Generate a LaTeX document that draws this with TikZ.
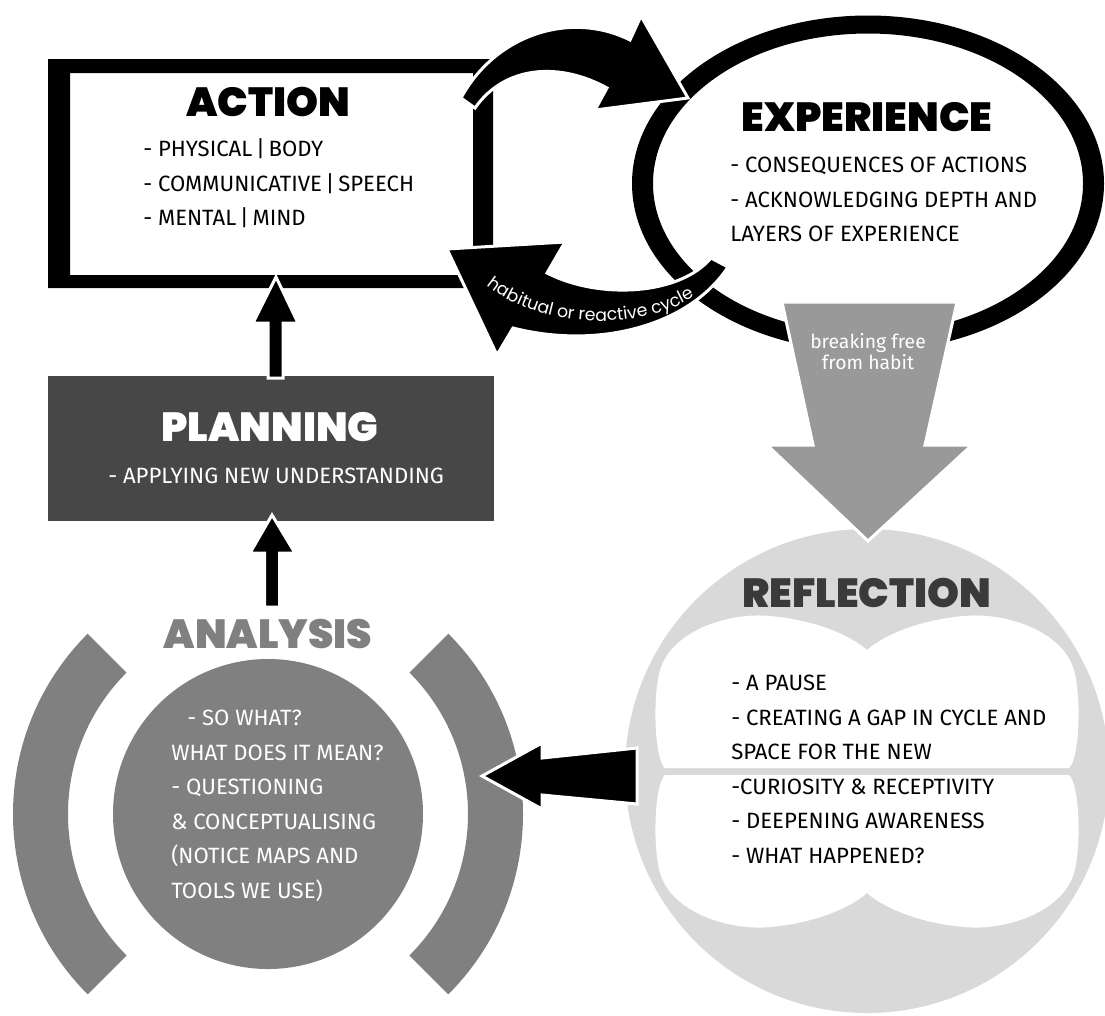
\documentclass[tikz,border=0pt]{standalone}
\usepackage{fontspec}
\setmainfont{Fira Sans}
\IfFontExistsTF{Poppins Black}{\newfontfamily\headfont{Poppins Black}}{%
  \IfFontExistsTF{Fira Sans Black}{\newfontfamily\headfont{Fira Sans Black}}{\newcommand\headfont{\bfseries}}}
\IfFontExistsTF{Poppins}{\newfontfamily\cyclefont{Poppins}}{\newcommand\cyclefont{}}
\usetikzlibrary{decorations.text}

\definecolor{planfill}{HTML}{474747}
\definecolor{anagray}{HTML}{808080}
\definecolor{freegray}{HTML}{999999}
\definecolor{reflgray}{HTML}{D9D9D9}
\definecolor{refltext}{HTML}{3A3A3A}

\tikzset{
  blockarrow/.style={fill=black, draw=white, line width=2.25pt, line join=miter},
  titletext/.style={inner sep=0, font=\headfont\fontsize{30.5}{30.5}\selectfont},
  listtext/.style={align=left, anchor=base west, inner sep=0, font=\fontsize{16.6}{25.95}\selectfont},
}

\begin{document}
\begin{tikzpicture}[x=0.75pt,y=0.75pt,yscale=-1,xscale=1]
\useasboundingbox (0,0) rectangle (1105,1015);

%Shape: Frame [ACTION]
\fill [even odd rule] (48,59) rectangle (493,288) (70,73) rectangle (473,275);
%Shape: Ellipse ring [EXPERIENCE]
\fill [even odd rule] (868,183.5) ellipse [x radius=236, y radius=168] (868,183.5) ellipse [x radius=215, y radius=150];
%Shape: Circle [REFLECTION]
\fill [reflgray] (867,771) circle [radius=242];
%Shape: upper lobe
\fill [white] (665,768) .. controls (655,760) and (652,700) .. (660,670) .. controls (672,630) and (730,612) .. (770,616) .. controls (815,620) and (850,635) .. (867,650) .. controls (884,635) and (919,620) .. (964,616) .. controls (1004,612) and (1062,630) .. (1074,670) .. controls (1082,700) and (1079,760) .. (1069,768) -- cycle;
%Shape: lower lobe
\fill [white] (665,775) .. controls (655,783) and (652,843) .. (660,873) .. controls (672,913) and (730,931) .. (770,927) .. controls (815,923) and (850,908) .. (867,893) .. controls (884,908) and (919,923) .. (964,927) .. controls (1004,931) and (1062,913) .. (1074,873) .. controls (1082,843) and (1079,783) .. (1069,775) -- cycle;
%Shape: Rectangle [PLANNING]
\fill [planfill] (48,376) rectangle (494,521);
%Shape: Circle [ANALYSIS]
\coordinate (anac) at (268,814);
\fill [anagray] (anac) circle [radius=155];
%Shape: Arcs
\fill [anagray] ([shift={(135:255)}]anac) arc [start angle=135, end angle=225, radius=255] -- ([shift={(225:200)}]anac) arc [start angle=225, end angle=135, radius=200] -- cycle;
\fill [anagray] ([shift={(-45:255)}]anac) arc [start angle=-45, end angle=45, radius=255] -- ([shift={(45:200)}]anac) arc [start angle=45, end angle=-45, radius=200] -- cycle;

%Curved Arrow [action to experience]
\draw [blockarrow] (461,98) .. controls (495,35) and (570,10) .. (630,40) -- (641,16) -- (688,98) -- (595,110) -- (607,88) .. controls (560,62) and (505,65) .. (475,108) -- cycle;
%Curved Arrow [habitual]
\draw [blockarrow] (711,258) -- (728,267) .. controls (690,325) and (600,350) .. (513,328) -- (497,355) -- (447,249) -- (565,242) -- (547,273) .. controls (600,300) and (680,295) .. (711,258) -- cycle;
%Block Arrow [breaking free]
\draw [fill=freegray, draw=white, line width=2.25pt, line join=miter] (782,302) -- (957,302) -- (925,445) -- (972,445) -- (868,541) -- (767,445) -- (813,445) -- cycle;
%Block Arrow [reflection to analysis]
\draw [blockarrow] (637,748) -- (637,804) -- (542,795) -- (542,809) -- (482,776) -- (542,743) -- (542,758) -- cycle;
%Block Arrow [planning to action]
\draw [blockarrow] (268,378) -- (268,323) -- (253,323) -- (276,277) -- (298,323) -- (283,323) -- (283,378) -- cycle;
%Block Arrow [analysis to planning]
\draw [blockarrow] (264.5,607) -- (264.5,553) -- (250,553) -- (272,515) -- (295,553) -- (279.5,553) -- (279.5,607) -- cycle;

% Text Node
\node [titletext] (actiontitle) at (268,102) {ACTION};
% Text Node
\node [listtext] (actionlist) at (143,225.7) {- PHYSICAL\,|\,BODY\\- COMMUNICATIVE\,|\,SPEECH\\- MENTAL\,|\,MIND};
% Text Node
\node [titletext] (exptitle) at (867,117.5) {EXPERIENCE};
% Text Node
\node [listtext] (explist) at (730,241.7) {- CONSEQUENCES OF ACTIONS\\- ACKNOWLEDGING DEPTH AND\\LAYERS OF EXPERIENCE};
% Text Node
\node [titletext, white] (plantitle) at (270,427.5) {PLANNING};
% Text Node
\node [listtext, white] (planlist) at (108,483.5) {- APPLYING NEW UNDERSTANDING};
% Text Node
\node [titletext, refltext] (refltitle) at (867,592.5) {REFLECTION};
% Text Node
\node [listtext] (refllist) at (731,863.5) {- A PAUSE\\- CREATING A GAP IN CYCLE AND\\SPACE FOR THE NEW\\-CURIOSITY \& RECEPTIVITY\\- DEEPENING AWARENESS\\- WHAT HAPPENED?};
% Text Node
\node [titletext, anagray] (anatitle) at (268,634) {ANALYSIS};
% Text Node
\node [listtext, white] (analist) at (171,898.5) {\hspace*{12pt}- SO WHAT?\\WHAT DOES IT MEAN?\\- QUESTIONING\\\& CONCEPTUALISING\\(NOTICE MAPS AND\\TOOLS WE USE)};
% Text Node
\node [align=center, white, inner sep=0, font=\fontsize{14.5}{15.75}\selectfont] (freetext) at (868,352) {breaking free\\from habit};
% Text Node [along arc]
\path [decorate, decoration={text along path, text align=center, text color=white, text={|\cyclefont\fontsize{13}{13}\selectfont|habitual or reactive cycle}}] (470,268) .. controls (522,334) and (655,338) .. (714,282);

\end{tikzpicture}
\end{document}
